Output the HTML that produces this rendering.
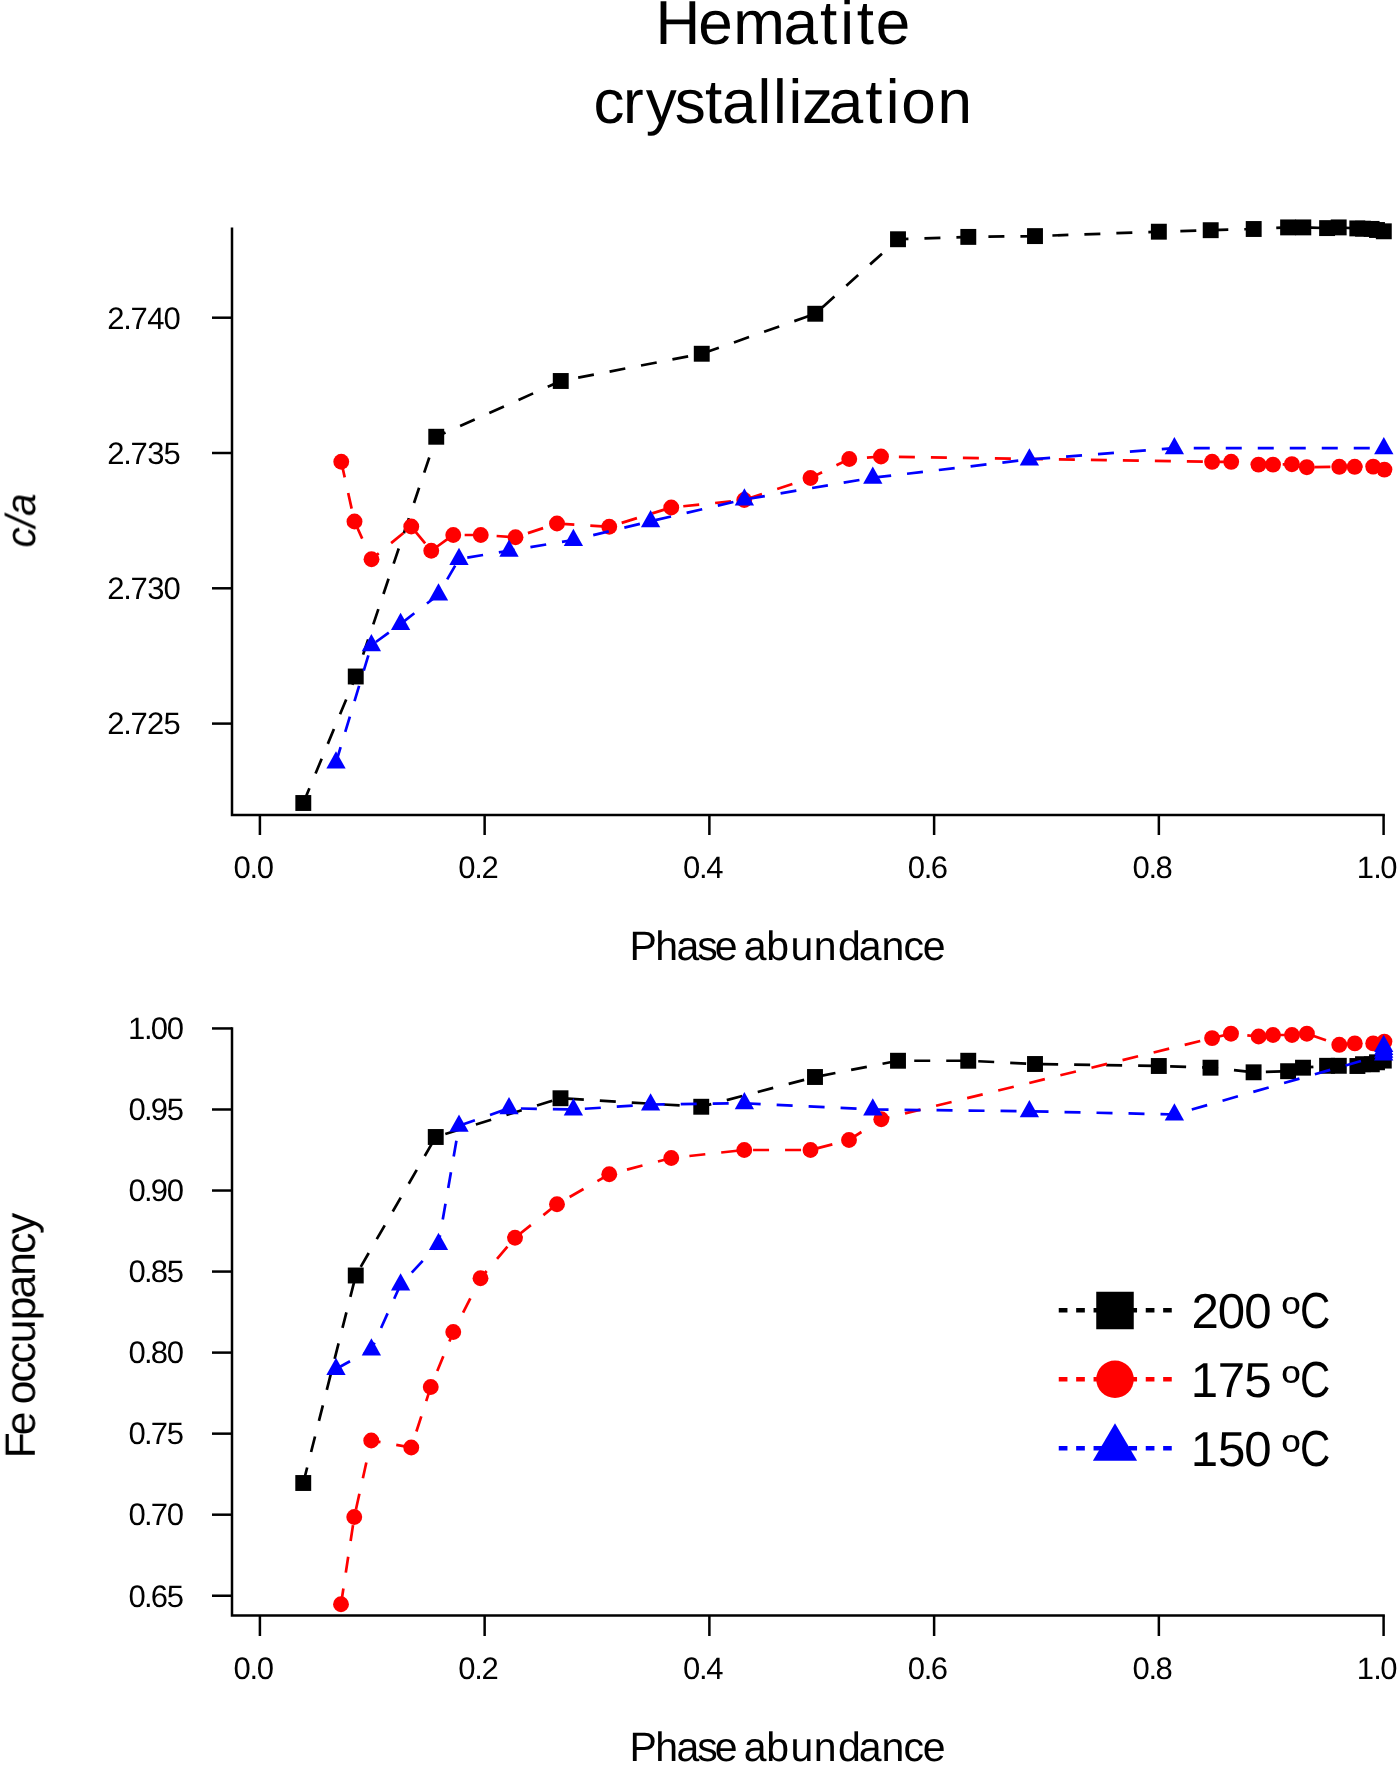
<!DOCTYPE html>
<html><head><meta charset="utf-8"><title>Hematite crystallization</title>
<style>html,body{margin:0;padding:0;background:#fff}svg{display:block}</style></head>
<body>
<svg width="1400" height="1766" viewBox="0 0 1400 1766" font-family="'Liberation Sans', sans-serif" fill="#000" text-rendering="geometricPrecision">
<rect width="1400" height="1766" fill="#fff"/>
<g opacity="0.999">
<text x="655.43 698.34 733.32 783.61 819.89 840.34 856.83 875.69" y="44.2" font-size="62">Hematite</text>
<text x="593.43 623.12 645.78 674.63 704.99 722.09 757.42 772.98 788.50 801.99 828.65 865.15 885.76 901.21 937.56" y="122.8" font-size="62">crystallization</text>
</g>
<g stroke="#000" stroke-width="2.5" fill="none">
<path d="M232 227.4V814.9H1384.85"/>
<path d="M232 1027.2V1615.5H1384.85"/>
<path d="M259.9 814.9V835"/><path d="M259.9 1615.5V1636"/>
<path d="M484.64 814.9V835"/><path d="M484.64 1615.5V1636"/>
<path d="M709.38 814.9V835"/><path d="M709.38 1615.5V1636"/>
<path d="M934.12 814.9V835"/><path d="M934.12 1615.5V1636"/>
<path d="M1158.86 814.9V835"/><path d="M1158.86 1615.5V1636"/>
<path d="M1383.6 814.9V835"/><path d="M1383.6 1615.5V1636"/>
<path d="M212 317.7H232"/>
<path d="M212 453H232"/>
<path d="M212 588.3H232"/>
<path d="M212 723.6H232"/>
<path d="M212 1028.45H232"/>
<path d="M212 1109.49H232"/>
<path d="M212 1190.53H232"/>
<path d="M212 1271.57H232"/>
<path d="M212 1352.61H232"/>
<path d="M212 1433.65H232"/>
<path d="M212 1514.69H232"/>
<path d="M212 1595.73H232"/>
</g>
<g opacity="0.999">
<text x="233.57 249.43 256.65" y="877.9" font-size="31">0.0</text>
<text x="233.57 249.43 256.65" y="1678.8" font-size="31">0.0</text>
<text x="458.31 474.17 481.39" y="877.9" font-size="31">0.2</text>
<text x="458.31 474.17 481.39" y="1678.8" font-size="31">0.2</text>
<text x="683.05 698.91 706.23" y="877.9" font-size="31">0.4</text>
<text x="683.05 698.91 706.23" y="1678.8" font-size="31">0.4</text>
<text x="907.79 923.65 930.77" y="877.9" font-size="31">0.6</text>
<text x="907.79 923.65 930.77" y="1678.8" font-size="31">0.6</text>
<text x="1132.53 1148.39 1155.61" y="877.9" font-size="31">0.8</text>
<text x="1132.53 1148.39 1155.61" y="1678.8" font-size="31">0.8</text>
<text x="1356.85 1373.13 1380.35" y="877.9" font-size="31">1.0</text>
<text x="1356.85 1373.13 1380.35" y="1678.8" font-size="31">1.0</text>
<text x="107.34 123.25 130.52 147.16 163.59" y="328.50" font-size="31">2.740</text>
<text x="107.34 123.25 130.52 147.15 163.62" y="463.80" font-size="31">2.735</text>
<text x="107.34 123.25 130.52 147.15 163.59" y="599.10" font-size="31">2.730</text>
<text x="107.34 123.25 130.52 147.06 163.62" y="734.40" font-size="31">2.725</text>
<text x="128.03 143.97 150.86 166.82" y="1039.25" font-size="31">1.00</text>
<text x="128.45 143.97 150.86 166.85" y="1120.29" font-size="31">0.95</text>
<text x="128.45 143.97 150.86 166.82" y="1201.33" font-size="31">0.90</text>
<text x="128.45 143.97 150.86 166.85" y="1282.37" font-size="31">0.85</text>
<text x="128.45 143.97 150.86 166.82" y="1363.41" font-size="31">0.80</text>
<text x="128.45 143.97 150.84 166.85" y="1444.45" font-size="31">0.75</text>
<text x="128.45 143.97 150.84 166.82" y="1525.49" font-size="31">0.70</text>
<text x="128.45 143.97 150.75 166.85" y="1606.53" font-size="31">0.65</text>
<text x="629.53 655.28 676.42 697.16 714.84 735.57 743.66 766.28 790.43 813.74 837.88 858.65 881.41 903.45 922.73" y="960.2" font-size="41">Phase abundance</text>
<text x="629.53 655.28 676.42 697.16 714.84 735.57 743.66 766.28 790.43 813.74 837.88 858.65 881.41 903.45 922.73" y="1760.8" font-size="41">Phase abundance</text>
<text font-size="42" font-style="italic" transform="translate(35.1 547.49) rotate(-90)" textLength="54.02" lengthAdjust="spacingAndGlyphs">c/a</text>
<text font-size="42.5" transform="translate(34.8 0) rotate(-90)" x="-1458.27 -1435.35 -1414.44 -1404.31 -1382.44 -1363.55 -1343.31 -1320.21 -1298.47 -1275.74 -1253.71 -1234.01" y="0">Fe occupancy</text>
</g>
<polyline points="303.30,803.00 355.75,676.50 436.25,436.75 560.75,381.00 701.75,353.75 815.25,313.75 898.00,239.25 968.30,236.90 1035.00,236.10 1158.85,231.70 1210.70,230.20 1253.70,229.00 1288.10,227.40 1303.30,227.40 1327.10,228.10 1338.70,227.40 1357.30,228.40 1363.00,228.70 1371.60,228.90 1377.00,230.00 1383.80,231.30" fill="none" stroke="#000" stroke-width="2.7" stroke-dasharray="16 16" stroke-dashoffset="0"/>
<g fill="#000"><rect x="295.35" y="795.05" width="15.9" height="15.9"/><rect x="347.80" y="668.55" width="15.9" height="15.9"/><rect x="428.30" y="428.80" width="15.9" height="15.9"/><rect x="552.80" y="373.05" width="15.9" height="15.9"/><rect x="693.80" y="345.80" width="15.9" height="15.9"/><rect x="807.30" y="305.80" width="15.9" height="15.9"/><rect x="890.05" y="231.30" width="15.9" height="15.9"/><rect x="960.35" y="228.95" width="15.9" height="15.9"/><rect x="1027.05" y="228.15" width="15.9" height="15.9"/><rect x="1150.90" y="223.75" width="15.9" height="15.9"/><rect x="1202.75" y="222.25" width="15.9" height="15.9"/><rect x="1245.75" y="221.05" width="15.9" height="15.9"/><rect x="1280.15" y="219.45" width="15.9" height="15.9"/><rect x="1295.35" y="219.45" width="15.9" height="15.9"/><rect x="1319.15" y="220.15" width="15.9" height="15.9"/><rect x="1330.75" y="219.45" width="15.9" height="15.9"/><rect x="1349.35" y="220.45" width="15.9" height="15.9"/><rect x="1355.05" y="220.75" width="15.9" height="15.9"/><rect x="1363.65" y="220.95" width="15.9" height="15.9"/><rect x="1369.05" y="222.05" width="15.9" height="15.9"/><rect x="1375.85" y="223.35" width="15.9" height="15.9"/></g>
<polyline points="341.25,461.75 354.50,521.50 371.50,559.25 411.25,526.50 431.25,550.75 453.25,535.00 480.75,535.00 515.50,537.25 557.00,523.50 609.25,526.75 671.25,507.50 744.25,500.00 810.50,478.00 849.25,459.00 881.00,456.50 1212.10,461.80 1231.20,461.80 1258.50,464.60 1273.00,464.60 1291.90,464.20 1306.80,467.20 1339.30,466.80 1354.70,466.80 1373.20,466.60 1384.40,469.60" fill="none" stroke="#f00" stroke-width="2.7" stroke-dasharray="16 16" stroke-dashoffset="0"/>
<g fill="#f00"><circle cx="341.25" cy="461.75" r="7.95"/><circle cx="354.50" cy="521.50" r="7.95"/><circle cx="371.50" cy="559.25" r="7.95"/><circle cx="411.25" cy="526.50" r="7.95"/><circle cx="431.25" cy="550.75" r="7.95"/><circle cx="453.25" cy="535.00" r="7.95"/><circle cx="480.75" cy="535.00" r="7.95"/><circle cx="515.50" cy="537.25" r="7.95"/><circle cx="557.00" cy="523.50" r="7.95"/><circle cx="609.25" cy="526.75" r="7.95"/><circle cx="671.25" cy="507.50" r="7.95"/><circle cx="744.25" cy="500.00" r="7.95"/><circle cx="810.50" cy="478.00" r="7.95"/><circle cx="849.25" cy="459.00" r="7.95"/><circle cx="881.00" cy="456.50" r="7.95"/><circle cx="1212.10" cy="461.80" r="7.95"/><circle cx="1231.20" cy="461.80" r="7.95"/><circle cx="1258.50" cy="464.60" r="7.95"/><circle cx="1273.00" cy="464.60" r="7.95"/><circle cx="1291.90" cy="464.20" r="7.95"/><circle cx="1306.80" cy="467.20" r="7.95"/><circle cx="1339.30" cy="466.80" r="7.95"/><circle cx="1354.70" cy="466.80" r="7.95"/><circle cx="1373.20" cy="466.60" r="7.95"/><circle cx="1384.40" cy="469.60" r="7.95"/></g>
<polyline points="336.00,762.50 371.40,645.25 400.60,624.00 438.50,594.50 459.00,559.00 509.00,550.75 573.40,540.00 650.60,521.25 744.40,499.50 872.80,477.75 1029.40,459.40 1174.40,448.20 1383.80,448.20" fill="none" stroke="#00f" stroke-width="2.7" stroke-dasharray="16 16" stroke-dashoffset="0"/>
<g fill="#00f"><path d="M336.00 751.28L345.65 768.48L326.35 768.48Z"/><path d="M371.40 634.03L381.05 651.23L361.75 651.23Z"/><path d="M400.60 612.78L410.25 629.98L390.95 629.98Z"/><path d="M438.50 583.28L448.15 600.48L428.85 600.48Z"/><path d="M459.00 547.78L468.65 564.98L449.35 564.98Z"/><path d="M509.00 539.53L518.65 556.73L499.35 556.73Z"/><path d="M573.40 528.78L583.05 545.98L563.75 545.98Z"/><path d="M650.60 510.03L660.25 527.23L640.95 527.23Z"/><path d="M744.40 488.28L754.05 505.48L734.75 505.48Z"/><path d="M872.80 466.53L882.45 483.73L863.15 483.73Z"/><path d="M1029.40 448.18L1039.05 465.38L1019.75 465.38Z"/><path d="M1174.40 436.98L1184.05 454.18L1164.75 454.18Z"/><path d="M1383.80 436.98L1393.45 454.18L1374.15 454.18Z"/></g>
<polyline points="303.25,1483.00 355.75,1275.50 435.75,1137.00 560.50,1098.25 701.25,1106.75 815.00,1077.00 898.00,1060.75 968.25,1060.75 1035.00,1064.00 1158.80,1066.00 1210.50,1067.70 1253.60,1072.30 1288.10,1071.20 1303.00,1067.70 1327.10,1065.80 1338.80,1065.80 1357.40,1066.00 1363.00,1064.20 1371.80,1064.30 1377.00,1062.30 1383.80,1060.60" fill="none" stroke="#000" stroke-width="2.7" stroke-dasharray="16 16" stroke-dashoffset="0"/>
<g fill="#000"><rect x="295.30" y="1475.05" width="15.9" height="15.9"/><rect x="347.80" y="1267.55" width="15.9" height="15.9"/><rect x="427.80" y="1129.05" width="15.9" height="15.9"/><rect x="552.55" y="1090.30" width="15.9" height="15.9"/><rect x="693.30" y="1098.80" width="15.9" height="15.9"/><rect x="807.05" y="1069.05" width="15.9" height="15.9"/><rect x="890.05" y="1052.80" width="15.9" height="15.9"/><rect x="960.30" y="1052.80" width="15.9" height="15.9"/><rect x="1027.05" y="1056.05" width="15.9" height="15.9"/><rect x="1150.85" y="1058.05" width="15.9" height="15.9"/><rect x="1202.55" y="1059.75" width="15.9" height="15.9"/><rect x="1245.65" y="1064.35" width="15.9" height="15.9"/><rect x="1280.15" y="1063.25" width="15.9" height="15.9"/><rect x="1295.05" y="1059.75" width="15.9" height="15.9"/><rect x="1319.15" y="1057.85" width="15.9" height="15.9"/><rect x="1330.85" y="1057.85" width="15.9" height="15.9"/><rect x="1349.45" y="1058.05" width="15.9" height="15.9"/><rect x="1355.05" y="1056.25" width="15.9" height="15.9"/><rect x="1363.85" y="1056.35" width="15.9" height="15.9"/><rect x="1369.05" y="1054.35" width="15.9" height="15.9"/><rect x="1375.85" y="1052.65" width="15.9" height="15.9"/></g>
<polyline points="341.00,1604.25 354.25,1517.00 371.25,1440.50 411.25,1447.50 430.75,1387.00 453.25,1332.00 480.50,1278.25 515.00,1237.75 557.00,1204.25 609.25,1174.25 671.25,1158.00 744.25,1150.00 810.50,1150.00 849.00,1140.00 881.25,1119.25 1212.10,1038.10 1231.00,1033.70 1258.60,1036.50 1273.00,1035.00 1292.00,1035.00 1306.90,1033.70 1339.30,1044.80 1354.80,1043.40 1373.20,1043.40 1384.40,1041.60" fill="none" stroke="#f00" stroke-width="2.7" stroke-dasharray="16 16" stroke-dashoffset="0"/>
<g fill="#f00"><circle cx="341.00" cy="1604.25" r="7.95"/><circle cx="354.25" cy="1517.00" r="7.95"/><circle cx="371.25" cy="1440.50" r="7.95"/><circle cx="411.25" cy="1447.50" r="7.95"/><circle cx="430.75" cy="1387.00" r="7.95"/><circle cx="453.25" cy="1332.00" r="7.95"/><circle cx="480.50" cy="1278.25" r="7.95"/><circle cx="515.00" cy="1237.75" r="7.95"/><circle cx="557.00" cy="1204.25" r="7.95"/><circle cx="609.25" cy="1174.25" r="7.95"/><circle cx="671.25" cy="1158.00" r="7.95"/><circle cx="744.25" cy="1150.00" r="7.95"/><circle cx="810.50" cy="1150.00" r="7.95"/><circle cx="849.00" cy="1140.00" r="7.95"/><circle cx="881.25" cy="1119.25" r="7.95"/><circle cx="1212.10" cy="1038.10" r="7.95"/><circle cx="1231.00" cy="1033.70" r="7.95"/><circle cx="1258.60" cy="1036.50" r="7.95"/><circle cx="1273.00" cy="1035.00" r="7.95"/><circle cx="1292.00" cy="1035.00" r="7.95"/><circle cx="1306.90" cy="1033.70" r="7.95"/><circle cx="1339.30" cy="1044.80" r="7.95"/><circle cx="1354.80" cy="1043.40" r="7.95"/><circle cx="1373.20" cy="1043.40" r="7.95"/><circle cx="1384.40" cy="1041.60" r="7.95"/></g>
<polyline points="336.00,1369.00 371.40,1349.50 400.60,1284.50 438.50,1244.00 459.00,1125.75 509.00,1108.25 573.40,1109.50 650.60,1104.50 744.40,1103.25 872.80,1109.50 1029.40,1111.25 1174.40,1114.50 1383.70,1054.50 1383.70,1051.80 1383.70,1049.00 1383.70,1046.00" fill="none" stroke="#00f" stroke-width="2.7" stroke-dasharray="16 16" stroke-dashoffset="0"/>
<g fill="#00f"><path d="M336.00 1357.78L345.65 1374.98L326.35 1374.98Z"/><path d="M371.40 1338.28L381.05 1355.48L361.75 1355.48Z"/><path d="M400.60 1273.28L410.25 1290.48L390.95 1290.48Z"/><path d="M438.50 1232.78L448.15 1249.98L428.85 1249.98Z"/><path d="M459.00 1114.53L468.65 1131.73L449.35 1131.73Z"/><path d="M509.00 1097.03L518.65 1114.23L499.35 1114.23Z"/><path d="M573.40 1098.28L583.05 1115.48L563.75 1115.48Z"/><path d="M650.60 1093.28L660.25 1110.48L640.95 1110.48Z"/><path d="M744.40 1092.03L754.05 1109.23L734.75 1109.23Z"/><path d="M872.80 1098.28L882.45 1115.48L863.15 1115.48Z"/><path d="M1029.40 1100.03L1039.05 1117.23L1019.75 1117.23Z"/><path d="M1174.40 1103.28L1184.05 1120.48L1164.75 1120.48Z"/><path d="M1383.70 1043.28L1393.35 1060.48L1374.05 1060.48Z"/><path d="M1383.70 1040.58L1393.35 1057.78L1374.05 1057.78Z"/><path d="M1383.70 1037.78L1393.35 1054.98L1374.05 1054.98Z"/><path d="M1383.70 1034.78L1393.35 1051.98L1374.05 1051.98Z"/></g>
<path d="M1058.75 1310.3H1171.75" stroke="#000" stroke-width="4.5" stroke-dasharray="8.7 8.7" fill="none"/>
<path d="M1058.75 1379.25H1171.75" stroke="#f00" stroke-width="4.5" stroke-dasharray="8.7 8.7" fill="none"/>
<path d="M1058.75 1448.25H1171.75" stroke="#00f" stroke-width="4.5" stroke-dasharray="8.7 8.7" fill="none"/>
<rect x="1096.25" y="1291.75" width="37.5" height="37.5" fill="#000"/>
<circle cx="1115" cy="1379.25" r="18.75" fill="#f00"/>
<path d="M1115 1423.25L1137.1 1460.75L1092.9 1460.75Z" fill="#00f"/>
<g opacity="0.999">
<text x="1191.44 1217.85 1244.27" y="1328" font-size="49.2">200</text>
<text x="1281.95" y="1328" font-size="44.3" textLength="18.04" lengthAdjust="spacingAndGlyphs">º</text>
<text x="1300.01" y="1328.35" font-size="50.8" textLength="30.30" lengthAdjust="spacingAndGlyphs">C</text>
<text x="1190.77 1217.83 1244.32" y="1397" font-size="49.2">175</text>
<text x="1281.95" y="1397" font-size="44.3" textLength="18.04" lengthAdjust="spacingAndGlyphs">º</text>
<text x="1300.01" y="1397.35" font-size="50.8" textLength="30.30" lengthAdjust="spacingAndGlyphs">C</text>
<text x="1190.77 1217.90 1244.27" y="1465.75" font-size="49.2">150</text>
<text x="1281.95" y="1465.75" font-size="44.3" textLength="18.04" lengthAdjust="spacingAndGlyphs">º</text>
<text x="1300.01" y="1466.1" font-size="50.8" textLength="30.30" lengthAdjust="spacingAndGlyphs">C</text>
</g>
</svg>
</body></html>
